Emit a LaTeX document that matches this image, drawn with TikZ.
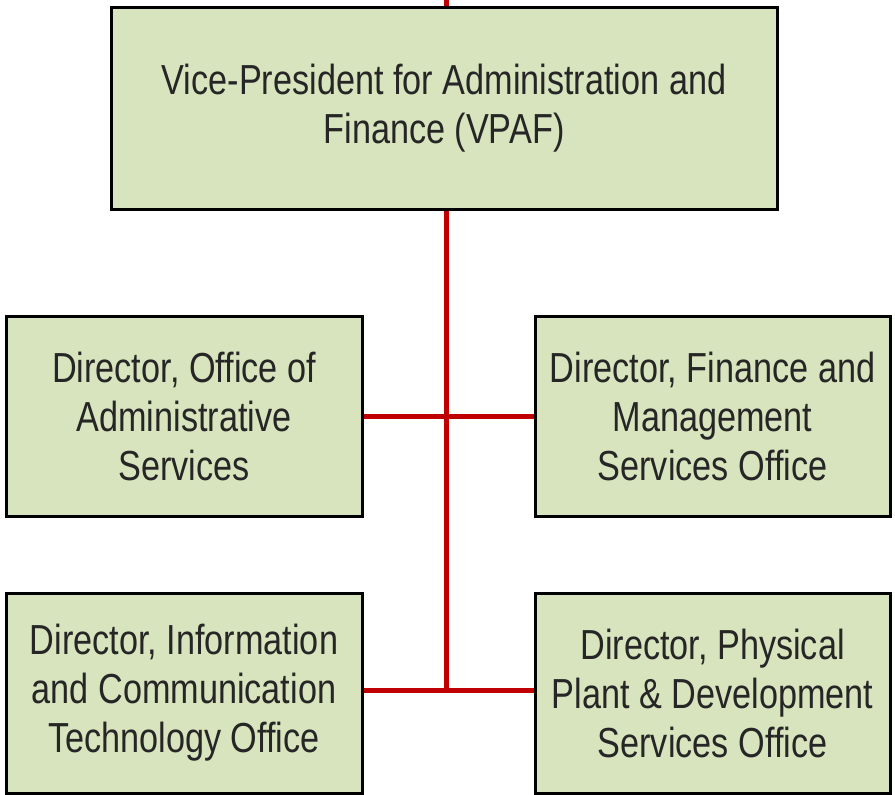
\documentclass[tikz,border=0pt]{standalone}
\usepackage{fontspec}
\setmainfont[FakeStretch=0.815]{Liberation Sans}
\definecolor{boxfill}{HTML}{D7E4BD}
\definecolor{linkred}{HTML}{C00000}
\begin{document}
\begin{tikzpicture}[x=1pt,y=-1pt,
  orgbox/.style={draw=black, line width=3pt, fill=boxfill, align=center, inner sep=0pt,
    font=\fontsize{42}{49}\selectfont, text=black!85},
  link/.style={draw=linkred, line width=5pt}]
\useasboundingbox (0,0) rectangle (895,795);
\node[orgbox, minimum width=666pt, minimum height=202pt] (vp) at (444,108) {Vice-President for Administration and\\Finance (VPAF)};
\node[orgbox, minimum width=356pt, minimum height=200pt] (oas) at (184,416) {Director, Office of\\Administrative\\Services};
\node[orgbox, minimum width=355pt, minimum height=200pt] (fms) at (712.5,416) {Director, Finance and\\Management\\Services Office};
\node[orgbox, minimum width=356pt, minimum height=200pt] (ict) at (184,693) {Director, Information\\and Communication\\Technology Office};
\node[orgbox, minimum width=355pt, minimum height=200pt] (ppd) at (712.5,693) {Director, Physical\\Plant \& Development\\Services Office};
\coordinate (topend) at (446,0);
\coordinate (j1) at (446,416);
\coordinate (j2) at (446,690);
\draw[link] (topend) -- (vp.north -| topend);
\draw[link] (vp.south -| j1) -- (j2);
\draw[link] (oas.east) -- (fms.west);
\draw[link] (ict.east |- j2) -- (ppd.west |- j2);
\end{tikzpicture}
\end{document}
